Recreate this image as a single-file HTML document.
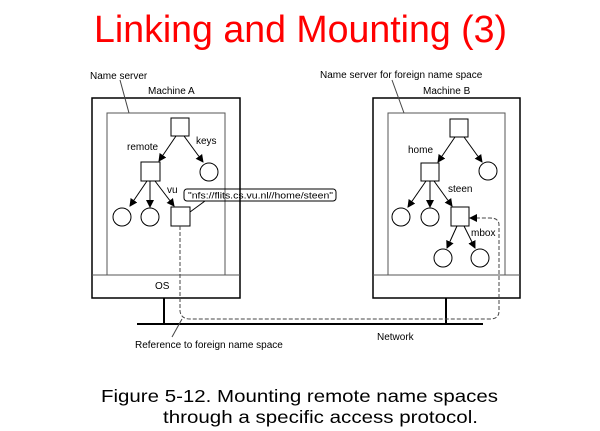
<!DOCTYPE html>
<html><head><style>body{margin:0;background:#fff}svg{display:block}</style></head><body>
<svg width="600" height="431" viewBox="0 0 600 431" xmlns="http://www.w3.org/2000/svg" font-family="Liberation Sans, Arial, sans-serif">
<defs><marker id="a" markerWidth="8" markerHeight="8" refX="7" refY="4" orient="auto" markerUnits="userSpaceOnUse"><path d="M0,0 L8,4 L0,8 z" fill="#000"/></marker></defs>
<text x="94" y="42" font-size="38" fill="#f00" textLength="413" lengthAdjust="spacingAndGlyphs">Linking and Mounting (3)</text>
<g stroke="#000" fill="none">
<rect x="92" y="98" width="148" height="200" stroke-width="1.5"/>
<rect x="107" y="113" width="118" height="162" stroke="#555"/>
<line x1="92" y1="275" x2="240" y2="275" stroke="#555"/>
<rect x="373" y="98" width="147" height="200" stroke-width="1.5"/>
<rect x="388" y="113" width="117" height="162" stroke="#555"/>
<line x1="373" y1="275" x2="520" y2="275" stroke="#555"/>
<line x1="164" y1="298" x2="164" y2="324" stroke-width="2"/>
<line x1="446" y1="298" x2="446" y2="324" stroke-width="2"/>
<line x1="137" y1="324" x2="483" y2="324" stroke-width="2"/>
<rect x="171" y="118" width="18" height="18"/>
<circle cx="209" cy="172" r="9"/>
<rect x="141" y="162" width="19" height="19"/>
<circle cx="122" cy="217" r="9"/><circle cx="150" cy="217" r="9"/>
<rect x="171" y="207" width="19" height="19"/>
<line x1="176" y1="136" x2="159" y2="161" marker-end="url(#a)"/>
<line x1="184" y1="136" x2="203" y2="162" marker-end="url(#a)"/>
<line x1="147" y1="181" x2="130" y2="206" marker-end="url(#a)"/>
<line x1="150" y1="181" x2="150" y2="207" marker-end="url(#a)"/>
<line x1="155" y1="181" x2="174" y2="206" marker-end="url(#a)"/>
<rect x="184" y="189" width="152" height="12" rx="3"/>
<line x1="190" y1="212" x2="205" y2="201"/>
<rect x="450" y="119" width="18" height="18"/>
<circle cx="488" cy="171" r="9"/>
<rect x="421" y="163" width="18" height="18"/>
<circle cx="401" cy="217" r="9"/><circle cx="430" cy="217" r="9"/>
<rect x="451" y="207" width="18" height="19"/>
<circle cx="443" cy="258" r="9"/><circle cx="480" cy="258" r="9"/>
<line x1="455" y1="137" x2="438" y2="162" marker-end="url(#a)"/>
<line x1="464" y1="137" x2="482" y2="162" marker-end="url(#a)"/>
<line x1="426" y1="181" x2="408" y2="207" marker-end="url(#a)"/>
<line x1="430" y1="181" x2="430" y2="207" marker-end="url(#a)"/>
<line x1="434" y1="181" x2="452" y2="206" marker-end="url(#a)"/>
<line x1="457" y1="226" x2="447" y2="248" marker-end="url(#a)"/>
<line x1="464" y1="226" x2="475" y2="248" marker-end="url(#a)"/>
<path d="M180,226 L180,311 Q181,319 190,319 L490,319 Q499,319 499,311 L499,225 Q499,218 490,218 L470,218" stroke-dasharray="4,2" stroke="#444" marker-end="url(#a)"/>
<line x1="120" y1="80" x2="129" y2="113" stroke="#444"/>
<line x1="392" y1="80" x2="404" y2="113" stroke="#444"/>
<line x1="172" y1="337" x2="182" y2="319" stroke="#444"/>
</g>
<g font-size="10" fill="#000">
<text x="90" y="79">Name server</text>
<text x="148" y="94">Machine A</text>
<text x="127" y="150">remote</text>
<text x="196" y="144">keys</text>
<text x="167" y="193">vu</text>
<text x="188" y="198.5" font-size="9.5" textLength="145" lengthAdjust="spacingAndGlyphs">"nfs://flits.cs.vu.nl//home/steen"</text>
<text x="155" y="289">OS</text>
<text x="320" y="78">Name server for foreign name space</text>
<text x="423" y="94">Machine B</text>
<text x="408" y="153">home</text>
<text x="448" y="192">steen</text>
<text x="471" y="236">mbox</text>
<text x="377" y="340">Network</text>
<text x="135" y="348">Reference to foreign name space</text>
</g>
<g font-size="17.5" fill="#000">
<text x="101" y="402" textLength="397" lengthAdjust="spacingAndGlyphs">Figure 5-12. Mounting remote name spaces</text>
<text x="163" y="423" textLength="315" lengthAdjust="spacingAndGlyphs">through a specific access protocol.</text>
</g>
</svg>
</body></html>
